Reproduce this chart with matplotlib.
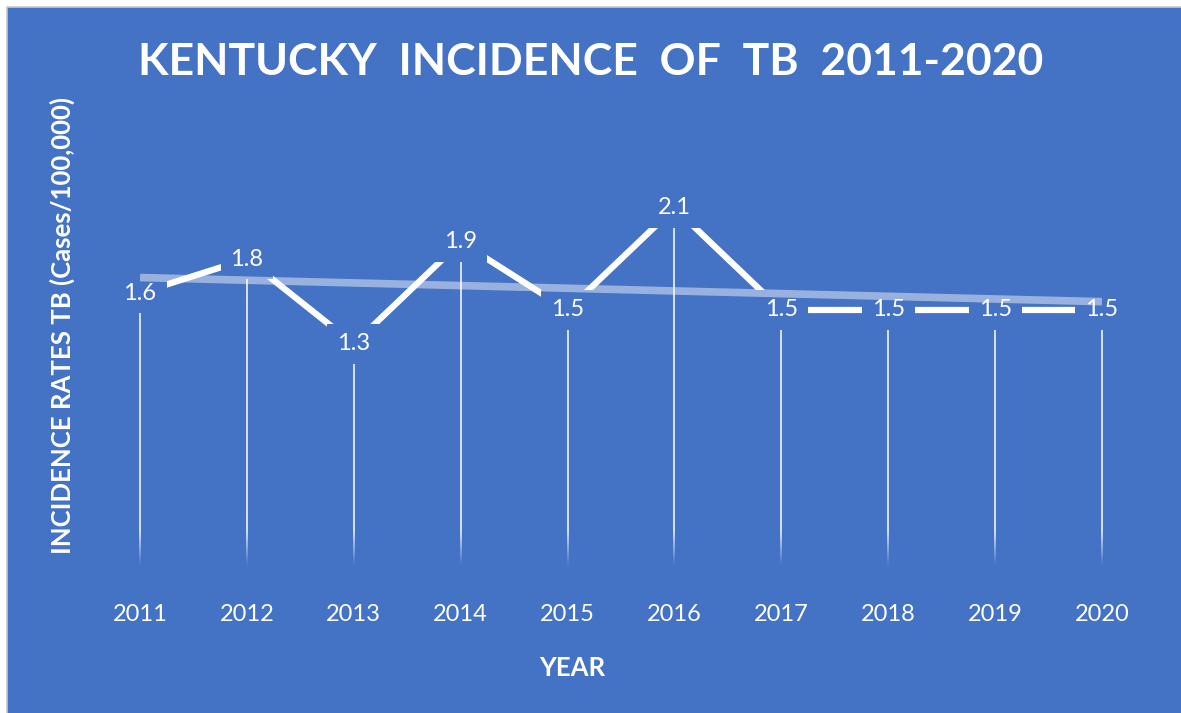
import numpy as np
import matplotlib
matplotlib.use("Agg")
import matplotlib.pyplot as plt
from matplotlib.patches import Rectangle

# Kentucky TB incidence (cases per 100,000)
years = ["2011", "2012", "2013", "2014", "2015", "2016", "2017", "2018", "2019", "2020"]
rates = [1.6, 1.8, 1.3, 1.9, 1.5, 2.1, 1.5, 1.5, 1.5, 1.5]

title = "KENTUCKY  INCIDENCE  OF  TB  2011-2020"
ylabel = "INCIDENCE RATES TB (Cases/100,000)"
xlabel = "YEAR"

BG = "#4472C4"
FONT = ["Lato", "DejaVu Sans"]

plt.rcParams["font.family"] = FONT

fig = plt.figure(figsize=(11.81, 7.13), dpi=100)
fig.patch.set_facecolor("white")

# chart area panel with a thin grey frame on the top and left
frame = Rectangle((7 / 1181, -0.02), 1.02, 1.02 - 7 / 713,
                  transform=fig.transFigure, facecolor=BG,
                  edgecolor="#c8c8c8", linewidth=1.2, zorder=-5)
fig.patches.append(frame)

ax = fig.add_axes([86.6 / 1181, (713 - 565) / 713, 1068.8 / 1181, 425 / 713])
ax.set_facecolor("none")
ax.set_zorder(2)
x = np.arange(len(years))
y = np.array(rates)

ax.set_xlim(-0.5, len(years) - 0.5)
ax.set_ylim(0, 2.5)

# drop lines: solid from the point down, fading out near the baseline
fade_top = 0.2
steps = 24
for xi, yi in zip(x, y):
    ax.plot([xi, xi], [yi, fade_top], color="white", lw=1.3, alpha=0.85,
            solid_capstyle="butt", zorder=1)
    edges = np.linspace(fade_top, 0, steps + 1)
    for k in range(steps):
        a = 0.85 * (1 - (k + 0.5) / steps)
        ax.plot([xi, xi], [edges[k], edges[k + 1]], color="white", lw=1.3,
                alpha=a, solid_capstyle="butt", zorder=1)

# data line
ax.plot(x, y, color="white", lw=4.5, solid_capstyle="butt", zorder=2)

# value labels, boxed in the background colour so lines break around them
for xi, yi in zip(x, y):
    ax.text(xi, yi, f"{yi:.1f}", ha="center", va="center", color="white",
            fontsize=17, zorder=3,
            bbox=dict(boxstyle="square,pad=0.42", fc=BG, ec="none"))

# linear trendline
coef = np.polyfit(x, y, 1)
ax.plot(x[[0, -1]], np.polyval(coef, x[[0, -1]]), color="white", alpha=0.45,
        lw=5.5, solid_capstyle="butt", zorder=4)

ax.set_xticks(x)
ax.set_xticklabels(years, color="white", fontsize=17)
ax.tick_params(axis="x", length=0, pad=28)
ax.set_yticks([])
for s in ax.spines.values():
    s.set_visible(False)

fig.text(0.5, 1 - 62 / 713, title, ha="center", va="center", color="white",
         fontsize=32, fontweight="bold")
fig.text(572 / 1181, 1 - 668 / 713, xlabel, ha="center", va="center",
         color="white", fontsize=18.5, fontweight="bold")
fig.text(62 / 1181, 1 - 325 / 713, ylabel, ha="center", va="center",
         color="white", fontsize=18.5, fontweight="bold", rotation=90)

fig.savefig("out.png", dpi=100, facecolor=fig.get_facecolor())
